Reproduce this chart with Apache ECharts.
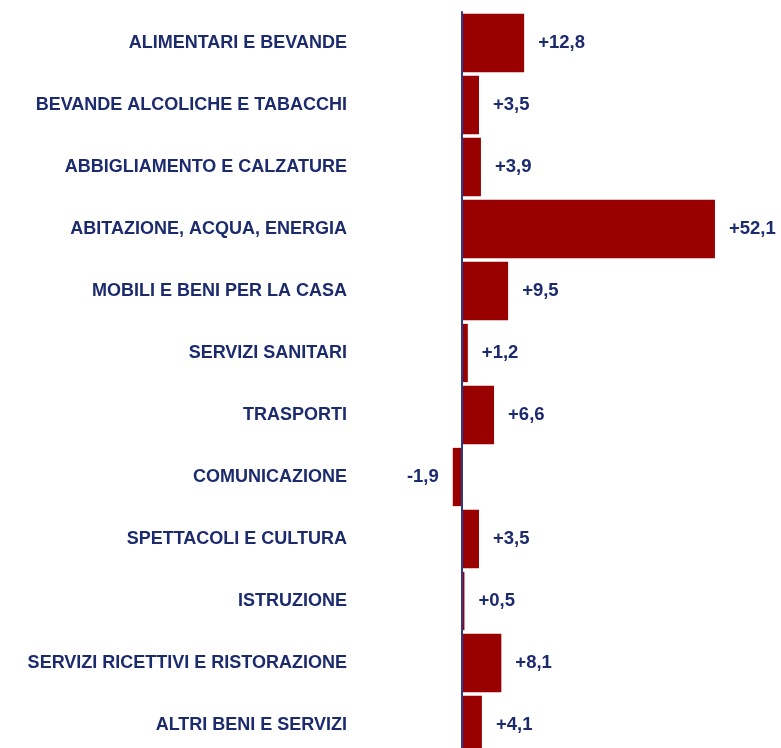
<!DOCTYPE html>
<html>
<head>
<meta charset="utf-8">
<script src="https://cdn.jsdelivr.net/npm/echarts@6/dist/echarts.min.js"></script>
<style>
  html, body { margin: 0; padding: 0; background: #fff; }
  #chart { width: 781px; height: 748px; }
</style>
</head>
<body>
<div id="chart"></div>
<script>
// categorie di spesa
const categories = [
  'ALIMENTARI E BEVANDE',
  'BEVANDE ALCOLICHE E TABACCHI',
  'ABBIGLIAMENTO E CALZATURE',
  'ABITAZIONE, ACQUA, ENERGIA',
  'MOBILI E BENI PER LA CASA',
  'SERVIZI SANITARI',
  'TRASPORTI',
  'COMUNICAZIONE',
  'SPETTACOLI E CULTURA',
  'ISTRUZIONE',
  'SERVIZI RICETTIVI E RISTORAZIONE',
  'ALTRI BENI E SERVIZI'
]

// variazioni
const values = [12.8, 3.5, 3.9, 52.1, 9.5, 1.2, 6.6, -1.9, 3.5, 0.5, 8.1, 4.1]

const navy = '#1c2a6e'
const barColor = '#990000'

const fmt = v => (v > 0 ? '+' : '') + v.toFixed(1).replace('.', ',')

const chart = echarts.init(document.getElementById('chart'))

const option = {
  animation: false,
  grid: { left: 462, right: 0, top: 12, bottom: -8, outerBoundsMode: 'none', containLabel: false },
  xAxis: {
    type: 'value',
    min: 0,
    max: 65.7,
    show: false
  },
  yAxis: {
    type: 'category',
    inverse: true,
    data: categories,
    z: 10,
    axisLine: { show: true, onZero: false, lineStyle: { color: '#2b3a8c', width: 2 } },
    axisTick: { show: false },
    axisLabel: {
      margin: 115,
      color: navy,
      fontFamily: 'Liberation Sans',
      fontWeight: 'bold',
      fontSize: 18
    }
  },
  series: [{
    type: 'bar',
    clip: false,
    barCategoryGap: '6%',
    data: values.map(v => ({
      value: v,
      label: { position: v < 0 ? 'left' : 'right' }
    })),
    itemStyle: { color: barColor },
    label: {
      show: true,
      distance: 14,
      color: navy,
      fontFamily: 'Liberation Sans',
      fontWeight: 'bold',
      fontSize: 18.5,
      formatter: p => fmt(p.value)
    }
  }]
}

chart.setOption(option)
</script>
</body>
</html>
